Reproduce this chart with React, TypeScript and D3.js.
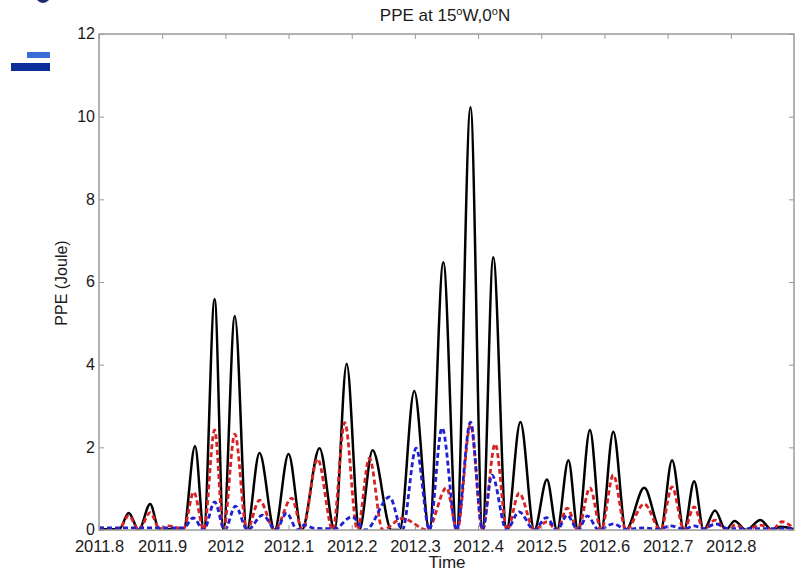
import React, { useEffect, useRef } from "react";
import * as d3 from "d3";

// tick labels
const xTicks = [2011.8, 2011.9, 2012, 2012.1, 2012.2, 2012.3, 2012.4, 2012.5, 2012.6, 2012.7, 2012.8];
const yTicks = [0, 2, 4, 6, 8, 10, 12];

// [time, PPE] (peaks and troughs)
const blackSeries: [number, number][] = [
  [2011.8, 0.02], [2011.832, 0.02], [2011.847, 0.41], [2011.863, 0], [2011.881, 0.63],
  [2011.895, 0.02], [2011.934, 0.02], [2011.952, 2.03], [2011.966, 0], [2011.983, 5.59],
  [2011.997, 0], [2012.015, 5.18], [2012.034, 0], [2012.054, 1.86], [2012.078, 0],
  [2012.1, 1.84], [2012.121, 0], [2012.149, 1.98], [2012.173, 0], [2012.192, 4.02],
  [2012.212, 0], [2012.233, 1.93], [2012.263, 0], [2012.276, 0], [2012.299, 3.36],
  [2012.323, 0], [2012.345, 6.48], [2012.366, 0], [2012.388, 10.23], [2012.407, 0],
  [2012.424, 6.6], [2012.445, 0], [2012.467, 2.61], [2012.489, 0], [2012.509, 1.22],
  [2012.525, 0], [2012.543, 1.69], [2012.558, 0], [2012.577, 2.42], [2012.595, 0],
  [2012.614, 2.38], [2012.634, 0], [2012.663, 1.02], [2012.689, 0], [2012.707, 1.69],
  [2012.726, 0], [2012.742, 1.18], [2012.757, 0], [2012.775, 0.47], [2012.792, 0],
  [2012.806, 0.22], [2012.824, 0], [2012.847, 0.24], [2012.865, 0], [2012.879, 0.08],
  [2012.9, 0.02],
];

const redSeries: [number, number][] = [
  [2011.8, 0.05], [2011.832, 0.03], [2011.847, 0.35], [2011.863, 0], [2011.881, 0.42],
  [2011.896, 0.03], [2011.909, 0.1], [2011.934, 0.03], [2011.95, 0.92], [2011.966, 0],
  [2011.983, 2.42], [2011.997, 0], [2012.015, 2.32], [2012.034, 0], [2012.054, 0.72],
  [2012.078, 0], [2012.105, 0.77], [2012.122, 0], [2012.146, 1.72], [2012.17, 0],
  [2012.189, 2.6], [2012.209, 0], [2012.228, 1.74], [2012.249, 0], [2012.28, 0.28],
  [2012.32, 0], [2012.35, 1.02], [2012.367, 0], [2012.388, 2.55], [2012.407, 0],
  [2012.427, 2.08], [2012.446, 0], [2012.465, 0.89], [2012.489, 0], [2012.509, 0.2],
  [2012.525, 0], [2012.541, 0.53], [2012.558, 0], [2012.577, 1.02], [2012.595, 0],
  [2012.614, 1.33], [2012.634, 0], [2012.663, 0.63], [2012.689, 0], [2012.707, 1.04],
  [2012.726, 0], [2012.742, 0.56], [2012.757, 0], [2012.775, 0.24], [2012.792, 0],
  [2012.808, 0.12], [2012.824, 0], [2012.847, 0.12], [2012.865, 0], [2012.881, 0.2],
  [2012.9, 0.03],
];

const blueSeries: [number, number][] = [
  [2011.8, 0.05], [2011.863, 0.05], [2011.934, 0.05], [2011.949, 0.29], [2011.966, 0],
  [2011.983, 0.68], [2011.999, 0], [2012.016, 0.58], [2012.035, 0], [2012.059, 0.36],
  [2012.08, 0], [2012.097, 0.41], [2012.114, 0], [2012.125, 0.12], [2012.141, 0.04],
  [2012.173, 0.03], [2012.2, 0.32], [2012.222, 0], [2012.26, 0.8], [2012.28, 0],
  [2012.302, 1.98], [2012.323, 0], [2012.343, 2.47], [2012.366, 0], [2012.388, 2.61],
  [2012.407, 0], [2012.422, 1.33], [2012.445, 0], [2012.465, 0.44], [2012.489, 0],
  [2012.508, 0.3], [2012.525, 0], [2012.541, 0.36], [2012.558, 0], [2012.573, 0.34],
  [2012.591, 0], [2012.614, 0.15], [2012.634, 0.02], [2012.663, 0.05], [2012.686, 0.02],
  [2012.705, 0.1], [2012.726, 0.02], [2012.742, 0.1], [2012.757, 0.03], [2012.776, 0.15],
  [2012.797, 0.03], [2012.9, 0.03],
];

const FONT = "'Liberation Sans', Arial, Helvetica, sans-serif";

export default function App() {
  const ref = useRef<SVGSVGElement | null>(null);

  useEffect(() => {
    const width = 798;
    const height = 577;
    const margin = { left: 99, top: 34, right: 4, bottom: 47 };
    const innerW = width - margin.left - margin.right;
    const innerH = height - margin.top - margin.bottom;

    const svg = d3.select(ref.current);
    svg.selectAll("*").remove();

    // bits of the slide behind the figure
    svg.append("ellipse").attr("cx", 43).attr("cy", -6).attr("rx", 8).attr("ry", 9).attr("fill", "#1b2a6b");
    svg.append("rect").attr("x", 27).attr("y", 52).attr("width", 23).attr("height", 6).attr("fill", "#3a6dd6");
    svg.append("rect").attr("x", 11).attr("y", 63).attr("width", 39).attr("height", 8).attr("fill", "#0b2e9a");

    const x = d3.scaleLinear().domain([2011.8, 2012.9]).range([0, innerW]);
    const y = d3.scaleLinear().domain([0, 12]).range([innerH, 0]);

    const g = svg.append("g").attr("transform", "translate(" + margin.left + "," + margin.top + ")");

    g.append("clipPath").attr("id", "plotclip")
      .append("rect").attr("width", innerW).attr("height", innerH);

    const line = d3.line<[number, number]>()
      .x((d) => x(d[0]))
      .y((d) => y(d[1]))
      .curve(d3.curveMonotoneX);

    const lines = g.append("g").attr("clip-path", "url(#plotclip)");
    lines.append("path").datum(blackSeries)
      .attr("d", line).attr("fill", "none").attr("stroke", "#000").attr("stroke-width", 2.5);
    lines.append("path").datum(redSeries)
      .attr("d", line).attr("fill", "none").attr("stroke", "#d92226").attr("stroke-width", 2.8)
      .attr("stroke-dasharray", "5,3");
    lines.append("path").datum(blueSeries)
      .attr("d", line).attr("fill", "none").attr("stroke", "#2020d0").attr("stroke-width", 2.8)
      .attr("stroke-dasharray", "5,3");

    const axisColor = "#9a9a9a";
    const styleAxis = (a: any) => {
      a.select(".domain").remove();
      a.selectAll("line").attr("stroke", axisColor);
      a.selectAll("text").attr("fill", "#1a1a1a").style("font-family", FONT);
    };

    g.append("g").attr("transform", "translate(0," + innerH + ")")
      .call(d3.axisBottom(x).tickValues(xTicks).tickFormat((d: any) => String(d)).tickSize(-5).tickSizeOuter(0).tickPadding(10))
      .call(styleAxis)
      .selectAll("text").style("font-size", "16.5px");
    g.append("g")
      .call(d3.axisTop(x).tickValues(xTicks).tickFormat(() => "").tickSize(-5).tickSizeOuter(0))
      .call(styleAxis);
    g.append("g")
      .call(d3.axisLeft(y).tickValues(yTicks).tickSize(-5).tickSizeOuter(0).tickPadding(4))
      .call(styleAxis)
      .selectAll("text").style("font-size", "16px").attr("dy", "0.3em");
    g.append("g").attr("transform", "translate(" + innerW + ",0)")
      .call(d3.axisRight(y).tickValues(yTicks).tickFormat(() => "").tickSize(-5).tickSizeOuter(0))
      .call(styleAxis);

    g.append("rect").attr("width", innerW).attr("height", innerH)
      .attr("fill", "none").attr("stroke", axisColor).attr("stroke-width", 1.5);

    // title with degree-like superscripts
    const title = svg.append("text").attr("x", 445).attr("y", 21)
      .attr("text-anchor", "middle").style("font-family", FONT).style("font-size", "17px").attr("fill", "#1a1a1a");
    title.append("tspan").text("PPE at 15");
    title.append("tspan").attr("dy", -6).style("font-size", "11px").text("o");
    title.append("tspan").attr("dy", 6).text("W,0");
    title.append("tspan").attr("dy", -6).style("font-size", "11px").text("o");
    title.append("tspan").attr("dy", 6).text("N");

    svg.append("text").attr("x", 447).attr("y", 568).attr("text-anchor", "middle")
      .style("font-family", FONT).style("font-size", "17px").attr("fill", "#1a1a1a").text("Time");

    svg.append("text").attr("transform", "translate(67,283) rotate(-90)").attr("text-anchor", "middle")
      .style("font-family", FONT).style("font-size", "16px").attr("fill", "#1a1a1a").text("PPE (Joule)");
  }, []);

  return (
    <svg ref={ref} width={798} height={577}
      style={{ position: "absolute", left: 0, top: 0, background: "#fff" }} />
  );
}
